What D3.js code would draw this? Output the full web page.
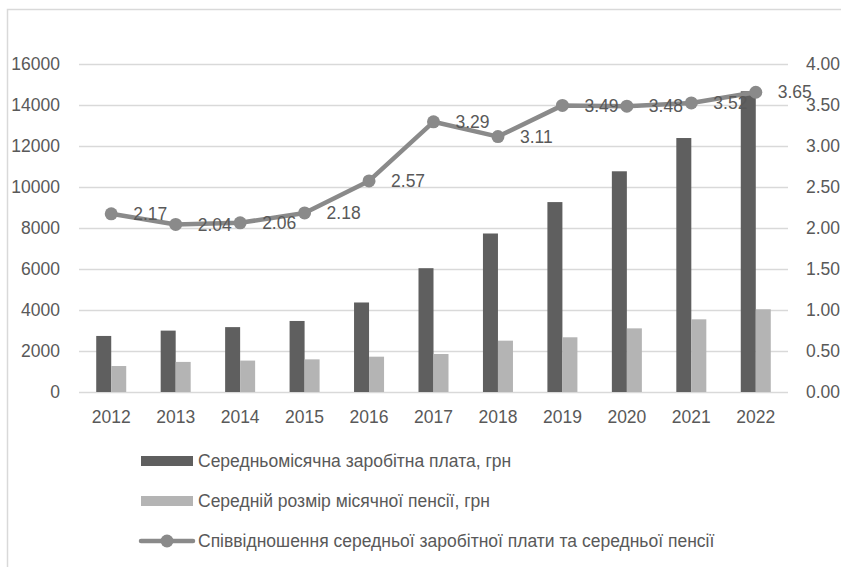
<!DOCTYPE html>
<html>
<head>
<meta charset="utf-8">
<script src="https://cdn.jsdelivr.net/npm/d3@7"></script>
<style>
  html, body { margin: 0; padding: 0; background: #fff; }
  svg text { font-family: "Liberation Sans", Arial, sans-serif; fill: #595959; }
</style>
</head>
<body>
<div class="canvas"></div>
<script>
// values
const years = ['2012', '2013', '2014', '2015', '2016', '2017', '2018', '2019', '2020', '2021', '2022'];
const wage = [2730, 2990, 3160, 3460, 4360, 6030, 7720, 9250, 10750, 12370, 14650];
const pension = [1265, 1465, 1530, 1590, 1720, 1850, 2500, 2665, 3100, 3540, 4030];
const ratio = [2.17, 2.04, 2.06, 2.18, 2.57, 3.29, 3.11, 3.49, 3.48, 3.52, 3.65];
const leftTicks = [0, 2000, 4000, 6000, 8000, 10000, 12000, 14000, 16000];
const rightTicks = [0, 0.5, 1, 1.5, 2, 2.5, 3, 3.5, 4];
const legendNames = [
    'Середньомісячна заробітна плата, грн',
    'Середній розмір місячної пенсії, грн',
    'Співвідношення середньої заробітної плати та середньої пенсії'
];

const width = 841, height = 567;
const plot = { left: 79, right: 788, top: 63.5, bottom: 392 };
const fontSize = 17.5;

const svg = d3.select('.canvas')
    .append('svg')
    .attr('width', width)
    .attr('height', height);

// frame (only left and top edges are in view)
svg.append('path')
    .attr('d', `M7.5,${height}V9.5H${width}`)
    .attr('fill', 'none')
    .attr('stroke', '#d9d9d9')
    .attr('stroke-width', 1.5);

const x = d3.scaleBand()
    .domain(years)
    .range([plot.left, plot.right]);

const xInner = d3.scaleBand()
    .domain(['wage', 'pension'])
    .range([0, x.bandwidth()])
    .paddingOuter(1.148);

const yLeft = d3.scaleLinear()
    .domain([0, 16000])
    .range([plot.bottom, plot.top]);

const yRight = d3.scaleLinear()
    .domain([0, 4])
    .range([plot.bottom, plot.top]);

// gridlines
svg.append('g')
    .selectAll('line')
    .data(leftTicks)
    .join('line')
    .attr('x1', plot.left)
    .attr('x2', plot.right)
    .attr('y1', d => Math.round(yLeft(d)) + 0.5)
    .attr('y2', d => Math.round(yLeft(d)) + 0.5)
    .attr('stroke', '#d9d9d9')
    .attr('stroke-width', 1.4);

// axes
const axisLeft = svg.append('g')
    .attr('transform', `translate(${plot.left},0)`)
    .call(d3.axisLeft(yLeft).tickValues(leftTicks).tickSize(0).tickPadding(19).tickFormat(d3.format('d')));

const axisRight = svg.append('g')
    .attr('transform', `translate(${plot.right},0)`)
    .call(d3.axisRight(yRight).tickValues(rightTicks).tickSize(0).tickPadding(18).tickFormat(d3.format('.2f')));

const axisBottom = svg.append('g')
    .attr('transform', `translate(0,${plot.bottom})`)
    .call(d3.axisBottom(x).tickSize(0).tickPadding(19));

[axisLeft, axisRight, axisBottom].forEach(a => {
    a.select('.domain').remove();
    a.attr('font-family', null).attr('font-size', null);
    a.selectAll('text').attr('font-size', fontSize);
});

// bars
const rows = years.map((y, i) => ({ year: y, wage: wage[i], pension: pension[i] }));
const colour = { wage: '#5f5f5f', pension: '#b4b4b4' };

svg.append('g')
    .selectAll('g')
    .data(rows)
    .join('g')
    .attr('transform', d => `translate(${x(d.year)},0)`)
    .selectAll('rect')
    .data(d => ['wage', 'pension'].map(k => ({ key: k, value: d[k] })))
    .join('rect')
    .attr('x', d => xInner(d.key))
    .attr('width', xInner.bandwidth())
    .attr('y', d => yLeft(d.value))
    .attr('height', d => plot.bottom - yLeft(d.value))
    .attr('fill', d => colour[d.key]);

// ratio line
const cx = y => x(y) + x.bandwidth() / 2;
const points = years.map((y, i) => ({ year: y, value: ratio[i] }));

svg.append('path')
    .datum(points)
    .attr('fill', 'none')
    .attr('stroke', '#8a8a8a')
    .attr('stroke-width', 4.5)
    .attr('stroke-linejoin', 'round')
    .attr('d', d3.line().x(d => cx(d.year)).y(d => yRight(d.value)));

svg.append('g')
    .selectAll('circle')
    .data(points)
    .join('circle')
    .attr('cx', d => cx(d.year))
    .attr('cy', d => yRight(d.value))
    .attr('r', 6.5)
    .attr('fill', '#8a8a8a');

svg.append('g')
    .selectAll('text')
    .data(points)
    .join('text')
    .attr('x', d => cx(d.year) + 22)
    .attr('y', d => yRight(d.value))
    .attr('dy', '0.35em')
    .attr('font-size', fontSize)
    .text(d => d3.format('.2f')(d.value));

// legend
const legend = svg.append('g');
const legY = [461, 501, 541];

legend.append('rect')
    .attr('x', 141).attr('y', legY[0] - 5)
    .attr('width', 52).attr('height', 10)
    .attr('fill', colour.wage);

legend.append('rect')
    .attr('x', 141).attr('y', legY[1] - 5)
    .attr('width', 52).attr('height', 10)
    .attr('fill', colour.pension);

legend.append('line')
    .attr('x1', 141).attr('x2', 193)
    .attr('y1', legY[2]).attr('y2', legY[2])
    .attr('stroke', '#8a8a8a')
    .attr('stroke-width', 4.5)
    .attr('stroke-linecap', 'round');

legend.append('circle')
    .attr('cx', 167).attr('cy', legY[2])
    .attr('r', 6.5)
    .attr('fill', '#8a8a8a');

legend.selectAll('text')
    .data(legendNames)
    .join('text')
    .attr('x', 198)
    .attr('y', (d, i) => legY[i])
    .attr('dy', '0.35em')
    .attr('font-size', fontSize)
    .text(d => d);
</script>
</body>
</html>
